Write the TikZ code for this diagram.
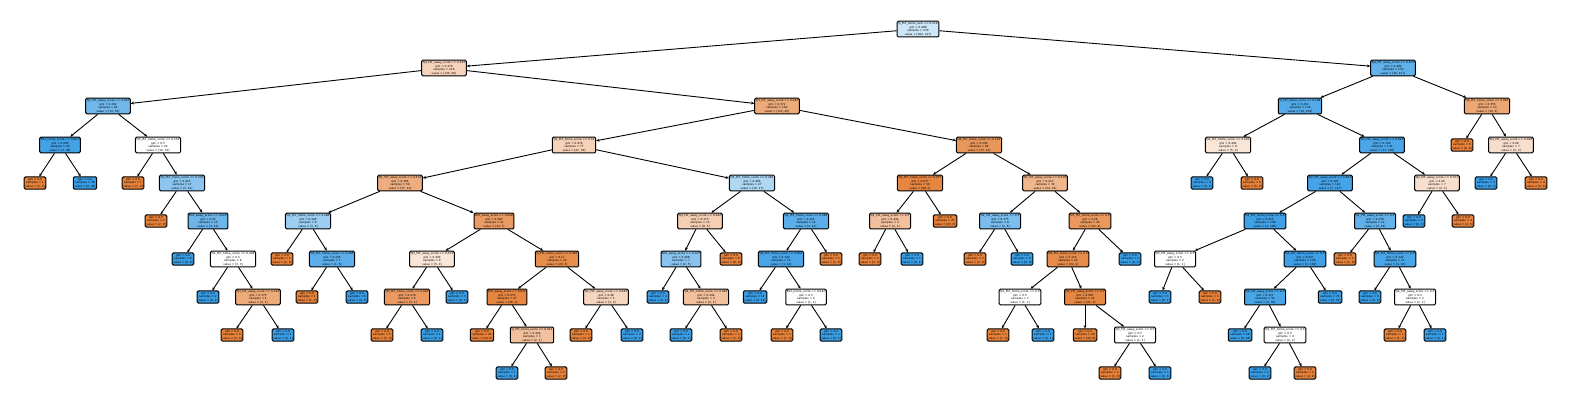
\documentclass[tikz,border=0pt]{standalone}
\usepackage{fontspec}
\setmainfont{DejaVu Sans}
\usetikzlibrary{arrows.meta}
\definecolor{cO}{RGB}{229,129,57}
\definecolor{cB}{RGB}{57,157,229}
\tikzset{
  tn/.style={draw=black, line width=1pt, rounded corners=1.2pt, inner sep=1.2pt, align=center, font=\fontsize{2.8}{3.6}\selectfont},
  ed/.style={line width=0.9pt, -{Stealth[length=3.2pt,width=2.8pt]}},
}
\begin{document}
\begin{tikzpicture}[x=1pt,y=-1pt]
\useasboundingbox (0,0) rectangle (1570,405);
% level 0
\node[tn,fill=cB!25!white] (r) at (918,29) {Q\_PLT\_home\_sum <= 0.516\\gini = 0.489\\samples = 379\\value = [162, 217]};
% level 1
\node[tn,fill=cO!34!white] (a) at (444,68) {Q4\_PLT\_away\_score <= 0.309\\gini = 0.479\\samples = 226\\value = [136, 90]};
\node[tn,fill=cB!80!white] (b) at (1393,68) {Q4\_PLT\_away\_score <= 0.675\\gini = 0.282\\samples = 153\\value = [26, 127]};
% level 2
\node[tn,fill=cB!72!white] (aa) at (108,106) {Q2\_PLT\_away\_score <= 0.104\\gini = 0.342\\samples = 64\\value = [14, 50]};
\node[tn,fill=cO!67!white] (ab) at (777,106) {Q3\_PLT\_away\_score <= 0.492\\gini = 0.372\\samples = 162\\value = [122, 40]};
\node[tn,fill=cB!87!white] (ba) at (1300,106) {Q\_PLT\_home\_score <= 0.238\\gini = 0.202\\samples = 140\\value = [16, 124]};
\node[tn,fill=cO!70!white] (bb) at (1487,106) {Q4\_PLT\_home\_score <= 0.082\\gini = 0.355\\samples = 13\\value = [10, 3]};
% level 3
\node[tn,fill=cB!95!white] (aaa) at (60,145) {BST\_home\_score <= 0.061\\gini = 0.095\\samples = 40\\value = [2, 38]};
\node[tn,fill=white] (aab) at (158,145) {Q3\_PLT\_home\_score <= 0.132\\gini = 0.5\\samples = 24\\value = [12, 12]};
\node[tn,fill=cO!36!white] (aba) at (574,145) {Q1\_PLT\_home\_score <= 0.52\\gini = 0.476\\samples = 77\\value = [47, 30]};
\node[tn,fill=cO!83!white] (abb) at (979,145) {Q4\_PLT\_home\_score <= 0.254\\gini = 0.245\\samples = 84\\value = [72, 12]};
\node[tn,fill=cO!20!white] (baa) at (1228,145) {Q1\_PLT\_home\_score <= 0.102\\gini = 0.494\\samples = 9\\value = [5, 4]};
\node[tn,fill=cB!91!white] (bab) at (1382,145) {Q3\_PLT\_away\_score <= 0.624\\gini = 0.154\\samples = 131\\value = [11, 120]};
\node[tn,fill=cO] (bba) at (1462,145) {gini = 0.0\\samples = 6\\value = [6, 0]};
\node[tn,fill=cO!25!white] (bbb) at (1511,145) {Q4\_PLT\_away\_score <= 0.028\\gini = 0.49\\samples = 7\\value = [4, 3]};
% level 4
\node[tn,fill=cO] (aaaa) at (35,183) {gini = 0.0\\samples = 2\\value = [2, 0]};
\node[tn,fill=cB] (aaab) at (85,183) {gini = 0.0\\samples = 38\\value = [0, 38]};
\node[tn,fill=cO] (aaba) at (133,183) {gini = 0.0\\samples = 7\\value = [7, 0]};
\node[tn,fill=cB!58!white] (aabb) at (182,183) {Q3\_PLT\_home\_score <= 0.333\\gini = 0.415\\samples = 17\\value = [5, 12]};
\node[tn,fill=cO!65!white] (abaa) at (400,183) {Q1\_PLT\_away\_score <= 0.313\\gini = 0.385\\samples = 50\\value = [37, 13]};
\node[tn,fill=cB!41!white] (abab) at (752,183) {Q1\_PLT\_home\_score <= 0.462\\gini = 0.466\\samples = 27\\value = [10, 17]};
\node[tn,fill=cO!96!white] (abba) at (920,183) {Q2\_PLT\_home\_score <= 0.077\\gini = 0.077\\samples = 50\\value = [48, 2]};
\node[tn,fill=cO!58!white] (abbb) at (1045,183) {Q1\_PLT\_away\_score <= 0.318\\gini = 0.415\\samples = 34\\value = [24, 10]};
\node[tn,fill=cB] (baaa) at (1202,183) {gini = 0.0\\samples = 4\\value = [0, 4]};
\node[tn,fill=cO] (baab) at (1252,183) {gini = 0.0\\samples = 5\\value = [5, 0]};
\node[tn,fill=cB!94!white] (baba) at (1330,183) {Q2\_PLT\_away\_score <= 0.853\\gini = 0.107\\samples = 124\\value = [7, 117]};
\node[tn,fill=cO!25!white] (babb) at (1437,183) {Q2\_PLT\_away\_score <= 0.371\\gini = 0.49\\samples = 7\\value = [4, 3]};
\node[tn,fill=cB] (bbba) at (1486,183) {gini = 0.0\\samples = 3\\value = [0, 3]};
\node[tn,fill=cO] (bbbb) at (1536,183) {gini = 0.0\\samples = 4\\value = [4, 0]};
% level 5
\node[tn,fill=cO] (c1) at (156,221) {gini = 0.0\\samples = 2\\value = [2, 0]};
\node[tn,fill=cB!75!white] (c2) at (208,221) {BST\_away\_score <= 0.025\\gini = 0.32\\samples = 15\\value = [3, 12]};
\node[tn,fill=cB!50!white] (c3) at (308,221) {Q2\_PLT\_home\_score <= 0.188\\gini = 0.444\\samples = 9\\value = [3, 6]};
\node[tn,fill=cO!79!white] (c4) at (494,221) {BST\_away\_score <= 0.046\\gini = 0.283\\samples = 41\\value = [34, 7]};
\node[tn,fill=cO!38!white] (c5) at (700,221) {Q4\_PLT\_away\_score <= 0.382\\gini = 0.473\\samples = 13\\value = [8, 5]};
\node[tn,fill=cB!83!white] (c6) at (806,221) {Q2\_PLT\_home\_score <= 0.083\\gini = 0.245\\samples = 14\\value = [2, 12]};
\node[tn,fill=cO!50!white] (c7) at (890,221) {Q1\_PLT\_away\_score <= 0.5\\gini = 0.444\\samples = 3\\value = [2, 1]};
\node[tn,fill=cO] (c8) at (945,221) {gini = 0.0\\samples = 47\\value = [47, 0]};
\node[tn,fill=cB!67!white] (c9) at (1000,221) {Q2\_PLT\_away\_score <= 0.5\\gini = 0.375\\samples = 8\\value = [2, 6]};
\node[tn,fill=cO!82!white] (c10) at (1090,221) {Q3\_PLT\_home\_score <= 0.5\\gini = 0.26\\samples = 26\\value = [22, 4]};
\node[tn,fill=cB!97!white] (c11) at (1265,221) {Q4\_PLT\_home\_score <= 0.5\\gini = 0.055\\samples = 108\\value = [3, 105]};
\node[tn,fill=cB!80!white] (c12) at (1375,221) {Q1\_PLT\_away\_score <= 0.5\\gini = 0.278\\samples = 12\\value = [2, 10]};
\node[tn,fill=cB] (c13) at (1414,221) {gini = 0.0\\samples = 3\\value = [0, 3]};
\node[tn,fill=cO] (c14) at (1463,221) {gini = 0.0\\samples = 4\\value = [4, 0]};
% level 6
\node[tn,fill=cB] (d1) at (183,259) {gini = 0.0\\samples = 9\\value = [0, 9]};
\node[tn,fill=white] (d2) at (233,259) {Q1\_PLT\_home\_score <= 0.438\\gini = 0.5\\samples = 6\\value = [3, 3]};
\node[tn,fill=cO] (d3) at (282,259) {gini = 0.0\\samples = 2\\value = [2, 0]};
\node[tn,fill=cB!83!white] (d4) at (332,259) {Q3\_PLT\_home\_score <= 0.208\\gini = 0.245\\samples = 7\\value = [1, 6]};
\node[tn,fill=cO!20!white] (d5) at (432,259) {Q3\_PLT\_away\_score <= 0.333\\gini = 0.494\\samples = 9\\value = [5, 4]};
\node[tn,fill=cO!90!white] (d6) at (557,259) {Q\_PLT\_home\_score <= 0.083\\gini = 0.17\\samples = 32\\value = [29, 3]};
\node[tn,fill=cB!60!white] (d7) at (681,259) {BST\_away\_score <= 0.125\\gini = 0.408\\samples = 7\\value = [2, 5]};
\node[tn,fill=cO] (d8) at (731,259) {gini = 0.0\\samples = 6\\value = [6, 0]};
\node[tn,fill=cB!92!white] (d9) at (781,259) {Q2\_PLT\_home\_score <= 0.833\\gini = 0.142\\samples = 13\\value = [1, 12]};
\node[tn,fill=cO] (d10) at (831,259) {gini = 0.0\\samples = 1\\value = [1, 0]};
\node[tn,fill=cO] (d11) at (870,259) {gini = 0.0\\samples = 2\\value = [2, 0]};
\node[tn,fill=cB] (d12) at (912,259) {gini = 0.0\\samples = 1\\value = [0, 1]};
\node[tn,fill=cO] (d13) at (975,259) {gini = 0.0\\samples = 2\\value = [2, 0]};
\node[tn,fill=cB] (d14) at (1022,259) {gini = 0.0\\samples = 6\\value = [0, 6]};
\node[tn,fill=cO!91!white] (d15) at (1068,259) {Q4\_PLT\_home\_score <= 0.5\\gini = 0.153\\samples = 24\\value = [22, 2]};
\node[tn,fill=cB] (d16) at (1130,259) {gini = 0.0\\samples = 2\\value = [0, 2]};
\node[tn,fill=white] (d17) at (1175,259) {Q3\_PLT\_away\_score <= 0.5\\gini = 0.5\\samples = 2\\value = [1, 1]};
\node[tn,fill=cB!98!white] (d18) at (1305,259) {Q1\_PLT\_home\_score <= 0.5\\gini = 0.037\\samples = 106\\value = [2, 104]};
\node[tn,fill=cO] (d19) at (1345,259) {gini = 0.0\\samples = 1\\value = [1, 0]};
\node[tn,fill=cB!92!white] (d20) at (1395,259) {Q2\_PLT\_home\_score <= 0.5\\gini = 0.142\\samples = 11\\value = [1, 10]};
% level 7
\node[tn,fill=cB] (e1) at (208,297) {gini = 0.0\\samples = 2\\value = [0, 2]};
\node[tn,fill=cO!67!white] (e2) at (258,297) {Q3\_PLT\_away\_score <= 0.104\\gini = 0.375\\samples = 4\\value = [3, 1]};
\node[tn,fill=cO] (e3) at (307,297) {gini = 0.0\\samples = 1\\value = [1, 0]};
\node[tn,fill=cB] (e4) at (357,297) {gini = 0.0\\samples = 6\\value = [0, 6]};
\node[tn,fill=cO!80!white] (e5) at (407,297) {Q3\_PLT\_home\_score <= 0.042\\gini = 0.278\\samples = 6\\value = [5, 1]};
\node[tn,fill=cB] (e6) at (457,297) {gini = 0.0\\samples = 3\\value = [0, 3]};
\node[tn,fill=cO!96!white] (e7) at (507,297) {BST\_away\_score <= 0.021\\gini = 0.071\\samples = 27\\value = [26, 1]};
\node[tn,fill=cO!33!white] (e8) at (606,297) {Q2\_PLT\_away\_score <= 0.083\\gini = 0.48\\samples = 5\\value = [3, 2]};
\node[tn,fill=cB] (e9) at (658,297) {gini = 0.0\\samples = 4\\value = [0, 4]};
\node[tn,fill=cO!50!white] (e10) at (706,297) {Q1\_PLT\_home\_score <= 0.062\\gini = 0.444\\samples = 3\\value = [2, 1]};
\node[tn,fill=cB] (e11) at (755,297) {gini = 0.0\\samples = 11\\value = [0, 11]};
\node[tn,fill=white] (e12) at (806,297) {BST\_home\_score <= 0.042\\gini = 0.5\\samples = 2\\value = [1, 1]};
\node[tn,fill=white] (e13) at (1020,297) {Q1\_PLT\_home\_score <= 0.5\\gini = 0.5\\samples = 2\\value = [1, 1]};
\node[tn,fill=cO!95!white] (e14) at (1085,297) {Q2\_PLT\_away\_score <= 0.5\\gini = 0.087\\samples = 22\\value = [21, 1]};
\node[tn,fill=cB] (e15) at (1160,297) {gini = 0.0\\samples = 1\\value = [0, 1]};
\node[tn,fill=cO] (e16) at (1210,297) {gini = 0.0\\samples = 1\\value = [1, 0]};
\node[tn,fill=cB!93!white] (e17) at (1265,297) {Q2\_PLT\_away\_score <= 0.5\\gini = 0.117\\samples = 32\\value = [2, 30]};
\node[tn,fill=cB] (e18) at (1330,297) {gini = 0.0\\samples = 74\\value = [0, 74]};
\node[tn,fill=cB] (e19) at (1370,297) {gini = 0.0\\samples = 9\\value = [0, 9]};
\node[tn,fill=white] (e20) at (1415,297) {Q4\_PLT\_away\_score <= 0.5\\gini = 0.5\\samples = 2\\value = [1, 1]};
% level 8
\node[tn,fill=cO] (f1) at (232,335) {gini = 0.0\\samples = 3\\value = [3, 0]};
\node[tn,fill=cB] (f2) at (283,335) {gini = 0.0\\samples = 1\\value = [0, 1]};
\node[tn,fill=cO] (f3) at (382,335) {gini = 0.0\\samples = 5\\value = [5, 0]};
\node[tn,fill=cB] (f4) at (432,335) {gini = 0.0\\samples = 1\\value = [0, 1]};
\node[tn,fill=cO] (f5) at (482,335) {gini = 0.0\\samples = 24\\value = [24, 0]};
\node[tn,fill=cO!50!white] (f6) at (532,335) {Q\_PLT\_home\_score <= 0.021\\gini = 0.444\\samples = 3\\value = [2, 1]};
\node[tn,fill=cO] (f5b) at (581,335) {gini = 0.0\\samples = 3\\value = [3, 0]};
\node[tn,fill=cB] (f6b) at (632,335) {gini = 0.0\\samples = 2\\value = [0, 2]};
\node[tn,fill=cB] (f7) at (681,335) {gini = 0.0\\samples = 1\\value = [0, 1]};
\node[tn,fill=cO] (f8) at (731,335) {gini = 0.0\\samples = 2\\value = [2, 0]};
\node[tn,fill=cO] (f9) at (782,335) {gini = 0.0\\samples = 1\\value = [1, 0]};
\node[tn,fill=cB] (f10) at (831,335) {gini = 0.0\\samples = 1\\value = [0, 1]};
\node[tn,fill=cO] (f11) at (998,335) {gini = 0.0\\samples = 1\\value = [1, 0]};
\node[tn,fill=cB] (f12) at (1043,335) {gini = 0.0\\samples = 1\\value = [0, 1]};
\node[tn,fill=cO] (f12b) at (1085,335) {gini = 0.0\\samples = 20\\value = [20, 0]};
\node[tn,fill=white] (f12c) at (1135,335) {Q3\_PLT\_away\_score <= 0.5\\gini = 0.5\\samples = 2\\value = [1, 1]};
\node[tn,fill=cB] (f13) at (1240,335) {gini = 0.0\\samples = 28\\value = [0, 28]};
\node[tn,fill=white] (f14) at (1285,335) {Q3\_PLT\_home\_score <= 0.5\\gini = 0.5\\samples = 4\\value = [2, 2]};
\node[tn,fill=cO] (f15) at (1395,335) {gini = 0.0\\samples = 1\\value = [1, 0]};
\node[tn,fill=cB] (f16) at (1435,335) {gini = 0.0\\samples = 1\\value = [0, 1]};
% level 9
\node[tn,fill=cB] (g1) at (507,373) {gini = 0.0\\samples = 1\\value = [0, 1]};
\node[tn,fill=cO] (g2) at (556,373) {gini = 0.0\\samples = 2\\value = [2, 0]};
\node[tn,fill=cO] (g2b) at (1110,373) {gini = 0.0\\samples = 1\\value = [1, 0]};
\node[tn,fill=cB] (g2c) at (1160,373) {gini = 0.0\\samples = 1\\value = [0, 1]};
\node[tn,fill=cB] (g3) at (1260,373) {gini = 0.0\\samples = 2\\value = [0, 2]};
\node[tn,fill=cO] (g4) at (1305,373) {gini = 0.0\\samples = 2\\value = [2, 0]};
% edges
\foreach \p/\c in {r/a,r/b,a/aa,a/ab,b/ba,b/bb,aa/aaa,aa/aab,ab/aba,ab/abb,ba/baa,ba/bab,bb/bba,bb/bbb,
 aaa/aaaa,aaa/aaab,aab/aaba,aab/aabb,aba/abaa,aba/abab,abb/abba,abb/abbb,baa/baaa,baa/baab,bab/baba,bab/babb,bbb/bbba,bbb/bbbb,
 aabb/c1,aabb/c2,abaa/c3,abaa/c4,abab/c5,abab/c6,abba/c7,abba/c8,abbb/c9,abbb/c10,baba/c11,baba/c12,babb/c13,babb/c14,
 c2/d1,c2/d2,c3/d3,c3/d4,c4/d5,c4/d6,c5/d7,c5/d8,c6/d9,c6/d10,c7/d11,c7/d12,c9/d13,c9/d14,c10/d15,c10/d16,c11/d17,c11/d18,c12/d19,c12/d20,
 d2/e1,d2/e2,d4/e3,d4/e4,d5/e5,d5/e6,d6/e7,d6/e8,d7/e9,d7/e10,d9/e11,d9/e12,d15/e13,d15/e14,d17/e15,d17/e16,d18/e17,d18/e18,d20/e19,d20/e20,
 e2/f1,e2/f2,e5/f3,e5/f4,e7/f5,e7/f6,e8/f5b,e8/f6b,e10/f7,e10/f8,e12/f9,e12/f10,e13/f11,e13/f12,e14/f12b,e14/f12c,e17/f13,e17/f14,e20/f15,e20/f16,
 f6/g1,f6/g2,f12c/g2b,f12c/g2c,f14/g3,f14/g4}
  \draw[ed] (\p) -- (\c);
\end{tikzpicture}
\end{document}
